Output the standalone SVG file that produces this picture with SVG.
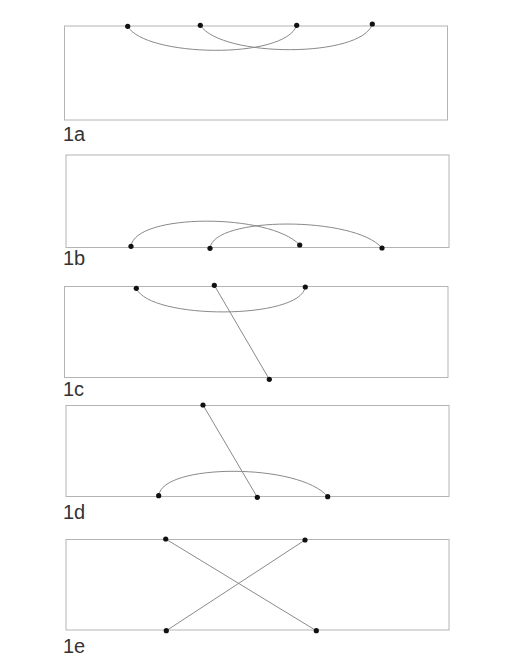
<svg xmlns="http://www.w3.org/2000/svg" width="518" height="670" viewBox="0 0 518 670">
<style>
.frame{fill:none;stroke:#b4b4b4;stroke-width:1}
.link{fill:none;stroke:#8a8a8a;stroke-width:1}
.dot{fill:#111}
.lbl{font-family:"Liberation Sans",Arial,sans-serif;font-size:20px;fill:#333;font-weight:normal}
</style>
<rect width="518" height="670" fill="#fff"/>
<g id="panel-1a">
<rect class="frame" x="64.5" y="26" width="383" height="94"/>
<text class="lbl" x="63" y="141">1a</text>
</g>
<g id="panel-1b">
<rect class="frame" x="66" y="155" width="383" height="92.5"/>
<text class="lbl" x="63" y="265">1b</text>
</g>
<g id="panel-1c">
<rect class="frame" x="64.5" y="286.5" width="383.5" height="91"/>
<text class="lbl" x="63" y="395.5">1c</text>
</g>
<g id="panel-1d">
<rect class="frame" x="66" y="405.5" width="383" height="91"/>
<text class="lbl" x="63" y="518.5">1d</text>
</g>
<g id="panel-1e">
<rect class="frame" x="66" y="539.5" width="383" height="90.5"/>
<text class="lbl" x="63" y="652.5">1e</text>
</g>
<g id="connectors">
<path class="link" d="M127.7 26.3 C145 57 285 60 296.7 25.3"/>
<path class="link" d="M200.3 25.3 C222 58 362 58 372.3 24"/>
<path class="link" d="M131 246.3 C135 213 270 213 299.7 245"/>
<path class="link" d="M210 248.3 C213 216 355 216 382 248"/>
<path class="link" d="M136.3 288.3 C150 320 300 320 305.3 287"/>
<path class="link" d="M214.3 285.3 L269.3 379.3"/>
<path class="link" d="M158.7 495.7 C162 463 300 463 327.7 496.7"/>
<path class="link" d="M203 405 L257.3 497.3"/>
<path class="link" d="M165.7 539 L316.3 630.7"/>
<path class="link" d="M305 540 L166.3 630.7"/>
</g>
<g id="nodes">
<circle class="dot" cx="127.7" cy="26.3" r="2.6"/>
<circle class="dot" cx="200.3" cy="25.3" r="2.6"/>
<circle class="dot" cx="296.7" cy="25.3" r="2.6"/>
<circle class="dot" cx="372.3" cy="24" r="2.6"/>
<circle class="dot" cx="131" cy="246.3" r="2.6"/>
<circle class="dot" cx="210" cy="248.3" r="2.6"/>
<circle class="dot" cx="299.7" cy="245" r="2.6"/>
<circle class="dot" cx="382" cy="248" r="2.6"/>
<circle class="dot" cx="136.3" cy="288.3" r="2.6"/>
<circle class="dot" cx="214.3" cy="285.3" r="2.6"/>
<circle class="dot" cx="305.3" cy="287" r="2.6"/>
<circle class="dot" cx="269.3" cy="379.3" r="2.6"/>
<circle class="dot" cx="203" cy="405" r="2.6"/>
<circle class="dot" cx="158.7" cy="495.7" r="2.6"/>
<circle class="dot" cx="257.3" cy="497.3" r="2.6"/>
<circle class="dot" cx="327.7" cy="496.7" r="2.6"/>
<circle class="dot" cx="165.7" cy="539" r="2.6"/>
<circle class="dot" cx="305" cy="540" r="2.6"/>
<circle class="dot" cx="166.3" cy="630.7" r="2.6"/>
<circle class="dot" cx="316.3" cy="630.7" r="2.6"/>
</g>
</svg>
